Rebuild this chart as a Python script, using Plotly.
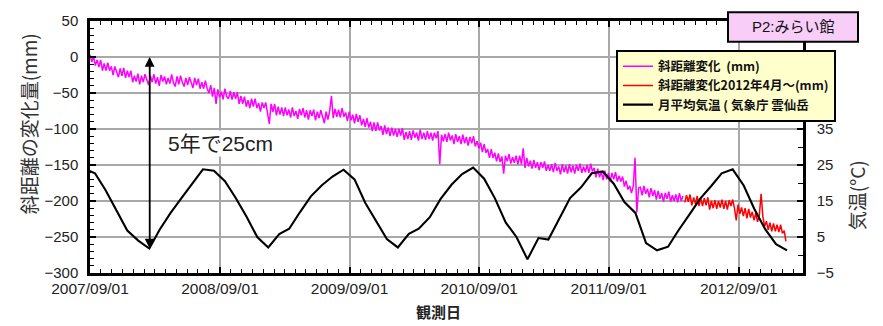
import pandas as pd
import plotly.graph_objects as go

# ---- data ----
# slope distance change (mm), every 5 days from 2007/09/01
mag = [
    3, -7, 1, -12, -4, -14, -4, -19, -9, -19,
    -8, -19, -13, -25, -13, -21, -28, -16, -26, -15,
    -29, -19, -28, -19, -35, -26, -34, -23, -38, -26,
    -35, -24, -33, -39, -26, -35, -24, -37, -28, -40,
    -25, -34, -27, -38, -29, -37, -24, -36, -41, -27,
    -38, -26, -35, -41, -29, -39, -28, -37, -43, -29,
    -39, -30, -44, -35, -44, -33, -44, -50, -39, -55,
    -43, -65, -45, -56, -48, -59, -44, -55, -58, -47,
    -59, -49, -58, -49, -65, -54, -65, -55, -69, -60,
    -71, -58, -69, -58, -71, -64, -76, -63, -71, -63,
    -76, -93, -65, -76, -65, -81, -69, -80, -70, -82,
    -70, -81, -73, -84, -70, -82, -75, -86, -72, -81,
    -71, -84, -74, -87, -74, -82, -73, -88, -76, -85,
    -74, -85, -92, -76, -87, -75, -54, -85, -72, -83,
    -73, -84, -71, -83, -77, -89, -76, -88, -80, -92,
    -79, -90, -81, -95, -86, -97, -85, -98, -90, -103,
    -91, -103, -91, -102, -96, -108, -95, -107, -98, -110,
    -98, -109, -100, -111, -100, -109, -99, -115, -104, -114,
    -103, -115, -102, -112, -105, -116, -101, -114, -105, -115,
    -103, -114, -105, -116, -105, -113, -103, -149, -108, -117,
    -107, -118, -105, -116, -109, -121, -107, -118, -110, -121,
    -108, -120, -111, -123, -111, -120, -110, -124, -117, -127,
    -119, -132, -121, -133, -128, -140, -128, -140, -133, -145,
    -134, -146, -138, -162, -137, -145, -135, -148, -139, -147,
    -137, -149, -137, -149, -127, -154, -140, -152, -144, -155,
    -143, -154, -146, -157, -146, -154, -145, -158, -150, -158,
    -149, -160, -147, -158, -152, -163, -149, -160, -151, -162,
    -149, -160, -151, -162, -150, -158, -148, -161, -152, -160,
    -150, -161, -148, -159, -154, -167, -155, -167, -159, -171,
    -158, -170, -161, -173, -161, -170, -160, -173, -165, -173,
    -166, -180, -172, -184, -179, -189, -179, -140, -216, -182,
    -181, -192, -179, -190, -183, -195, -182, -193, -185, -198,
    -186, -197, -189, -201, -189, -197, -187, -201, -192, -200,
    -191, -202, -189, -200, -193,
]
# slope distance change from 2012/04 (mm), every 5 days
red = [
    -202, -192, -201, -191, -206, -195, -204, -193, -207, -196,
    -207, -196, -206, -195, -212, -200, -210, -199, -211, -200,
    -209, -198, -211, -200, -212, -199, -207, -198, -210, -227,
    -205, -218, -209, -221, -210, -224, -211, -223, -215, -227,
    -217, -229, -220, -190, -222, -235, -228, -240, -230, -242,
    -231, -242, -233, -243, -233, -245, -241, -256,
]
# monthly mean temperature (deg C), 2007/08 .. 2013/01
temp = [
    24.0, 22.7, 18.0, 12.5, 6.8, 4.0, 1.8, 7.0, 11.7, 15.7, 19.8, 23.8,
    23.4, 20.5, 15.9, 10.6, 5.0, 2.1, 5.8, 7.3, 12.0, 16.3, 19.4, 21.8,
    23.7, 21.0, 14.5, 9.3, 4.4, 2.1, 5.9, 7.3, 10.5, 15.5, 19.5, 22.5,
    24.3, 21.2, 15.8, 9.0, 5.0, -1.2, 4.7, 4.3, 10.0, 15.8, 18.8, 22.7,
    23.2, 19.8, 14.7, 11.7, 3.3, 1.3, 2.3, 6.8, 11.2, 15.6, 19.1, 22.7,
    23.8, 19.3, 12.8, 7.1, 3.0, 1.3,
]
x_ticks = ['2007-09-01', '2008-09-01', '2009-09-01', '2010-09-01', '2011-09-01', '2012-09-01']
names = ['斜距離変化 \u00a0(mm)', '斜距離変化2012年4月～(mm)', '月平均気温 ( 気象庁 雲仙岳']

mag_dates = pd.date_range('2007-09-01', periods=len(mag), freq='5D')
red_dates = pd.date_range(mag_dates[-1] + pd.Timedelta(days=5), periods=len(red), freq='5D')
temp_dates = pd.date_range('2007-08-01', periods=len(temp), freq='MS') + pd.Timedelta(days=14)

fig = go.Figure()
fig.add_trace(go.Scatter(x=mag_dates, y=mag, mode='lines', name=names[0],
                         line=dict(color='#ff00ff', width=1.5)))
fig.add_trace(go.Scatter(x=red_dates, y=red, mode='lines', name=names[1],
                         line=dict(color='#ff0000', width=1.5)))
fig.add_trace(go.Scatter(x=temp_dates, y=temp, mode='lines', name=names[2], yaxis='y2',
                         line=dict(color='black', width=2.1)))

# plot area in pixels: x 90..803, y 17..273
L, R, T, B = 90, 803, 17, 273
W, H = R - L, B - T


def px(x):
    return (x - L) / W


def py(y):
    return (B - y) / H


grid = '#a8a8a8'
fig.update_layout(
    width=883, height=326,
    margin=dict(l=L, r=883 - R, t=T, b=326 - B),
    paper_bgcolor='white', plot_bgcolor='white',
    font=dict(family='Liberation Sans, Noto Sans CJK JP', size=14, color='#222'),
    xaxis=dict(type='date', range=['2007-09-01', '2013-03-01'],
               tickvals=x_ticks, ticktext=[d.replace('-', '/') for d in x_ticks],
               showgrid=True, gridcolor=grid, gridwidth=1.8,
               showline=True, linecolor='black', linewidth=2.5, mirror='ticks',
               ticks='inside', ticklen=6, tickwidth=1.5, tickcolor='black',
               tickfont=dict(size=15.5, color='#222'),
               minor=dict(dtick='M1', tick0='2007-09-01', ticks='inside', ticklen=4,
                          tickwidth=1.2, tickcolor='black', showgrid=False)),
    yaxis=dict(range=[-300, 50], dtick=50, tick0=0,
               showgrid=True, gridcolor=grid, gridwidth=1.8,
               showline=True, linecolor='black', linewidth=2.5, mirror=True,
               ticks='inside', ticklen=6, tickwidth=1.5, tickcolor='black',
               tickfont=dict(size=15, color='#222'), ticklabelstandoff=6,
               zeroline=False,
               minor=dict(dtick=10, ticks='inside', ticklen=4, tickwidth=1.2,
                          tickcolor='black', showgrid=False)),
    yaxis2=dict(overlaying='y', side='right', range=[-5, 65],
                tickvals=[-5, 5, 15, 25, 35], showgrid=False, zeroline=False,
                showline=True, linecolor='black', linewidth=2.5,
                ticks='inside', ticklen=6, tickwidth=1.5, tickcolor='black',
                tickfont=dict(size=15, color='#222'), ticklabelstandoff=8,
                minor=dict(dtick=5, tick0=-5, ticks='inside', ticklen=5, tickwidth=1.2,
                           tickcolor='black')),
    legend=dict(x=px(616), y=py(46), xanchor='left', yanchor='top',
                bgcolor='#ffffcc', bordercolor='black', borderwidth=2,
                font=dict(family='Noto Sans CJK JP', size=12.5, color='#111', weight='bold'),
                itemwidth=30, tracegroupgap=0),
)

# title box
fig.add_shape(type='rect', xref='paper', yref='paper',
              x0=px(728), x1=px(858), y0=py(38), y1=py(8),
              fillcolor='#f8cdf8', line=dict(color='black', width=2), layer='above')
fig.add_annotation(xref='paper', yref='paper', x=px(793), y=py(23),
                   xanchor='center', yanchor='middle',
                   text='P2:みらい館', showarrow=False,
                   font=dict(family='Liberation Sans, Noto Sans CJK JP', size=15, color='#111'))

# double-headed arrow
arrow_x = '2008-02-16'
for y_tip, y_tail in [(0, -266), (-266, 0)]:
    fig.add_annotation(x=arrow_x, y=y_tip, ax=arrow_x, ay=y_tail, xref='x', yref='y',
                       axref='x', ayref='y', showarrow=True, text='',
                       arrowhead=2, arrowsize=1.3, arrowwidth=1.5, arrowcolor='black')
fig.add_annotation(x=px(220), y=py(141), xref='paper', yref='paper',
                   xanchor='center', yanchor='middle',
                   text='5年で25cm', showarrow=False, bgcolor='white',
                   font=dict(family='Liberation Sans, Noto Sans CJK JP', size=21, color='#222'))

# axis titles
fig.add_annotation(xref='paper', yref='paper', x=px(28), y=py(122),
                   xanchor='center', yanchor='middle',
                   text='斜距離の変化量(mm)', textangle=-90, showarrow=False,
                   font=dict(family='Noto Sans CJK JP', size=19, color='#333'))
fig.add_annotation(xref='paper', yref='paper', x=px(856), y=py(194),
                   xanchor='center', yanchor='middle',
                   text='気温(°C)', textangle=-90, showarrow=False,
                   font=dict(family='Noto Sans CJK JP', size=19, color='#333'))
fig.add_annotation(xref='paper', yref='paper', x=px(438), y=py(312),
                   xanchor='center', yanchor='middle',
                   text='観測日', showarrow=False,
                   font=dict(family='Noto Sans CJK JP', size=15, color='#222', weight='bold'))

fig.write_html('out.html', config={'displayModeBar': False},
               post_script="document.body.style.margin='0';")
